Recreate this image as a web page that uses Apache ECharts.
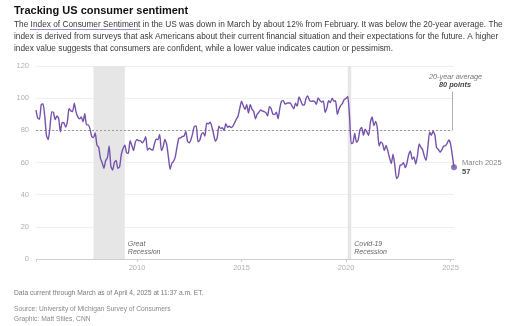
<!DOCTYPE html>
<html>
<head>
<meta charset="utf-8">
<style>
  html, body { margin: 0; padding: 0; background: #fff; }
  #chart { width: 520px; height: 326px; }
</style>
<script src="https://cdn.jsdelivr.net/npm/echarts@6/dist/echarts.min.js"></script>
</head>
<body>
<div id="chart"></div>
<script>
// Monthly University of Michigan Index of Consumer Sentiment, March 2005 – March 2025
const startYear = 2005;
const startMonth = 3; // March
const sentiment = [
  92.6, 87.7, 86.9, 96.0, 96.5, 89.1, 76.9, 74.2, 81.6, 91.5,                 // 2005 (Mar–Dec)
  91.2, 86.7, 88.9, 87.4, 79.1, 84.9, 84.7, 82.0, 85.4, 93.6, 92.1, 91.7,     // 2006
  96.9, 91.3, 88.4, 87.1, 88.3, 85.3, 90.4, 83.4, 83.4, 80.9, 76.1, 75.5,     // 2007
  78.4, 70.8, 69.5, 62.6, 59.8, 56.4, 61.2, 63.0, 70.3, 57.6, 55.3, 60.1,     // 2008
  61.2, 56.3, 57.3, 65.1, 68.7, 70.8, 66.0, 65.7, 73.5, 70.6, 67.4, 72.5,     // 2009
  74.4, 73.6, 73.6, 72.2, 73.6, 76.0, 67.8, 68.9, 68.2, 67.7, 71.6, 74.5,     // 2010
  74.2, 77.5, 67.5, 69.8, 74.3, 71.5, 63.7, 55.8, 59.5, 60.8, 63.7, 69.9,     // 2011
  75.0, 75.3, 76.2, 76.4, 79.3, 73.2, 72.3, 74.3, 78.3, 82.6, 82.7, 72.9,     // 2012
  73.8, 77.6, 78.6, 76.4, 84.5, 84.1, 85.1, 82.1, 77.5, 73.2, 75.1, 82.5,     // 2013
  81.2, 81.6, 80.0, 84.1, 81.9, 82.5, 81.8, 82.5, 84.6, 86.9, 88.8, 93.6,     // 2014
  98.1, 95.4, 93.0, 95.9, 90.7, 96.1, 93.1, 91.9, 87.2, 90.0, 91.3, 92.6,     // 2015
  92.0, 91.7, 91.0, 89.0, 94.7, 93.5, 90.0, 89.8, 91.2, 87.2, 93.8, 98.2,     // 2016
  98.5, 96.3, 96.9, 97.0, 97.1, 95.1, 93.4, 96.8, 95.1, 100.7, 98.5, 95.9,    // 2017
  95.7, 99.7, 101.4, 98.8, 98.0, 98.2, 97.9, 96.2, 100.1, 98.6, 97.5, 98.3,   // 2018
  91.2, 93.8, 98.4, 97.2, 100.0, 98.2, 98.4, 89.8, 93.2, 95.5, 96.8, 99.3,    // 2019
  99.8, 101.0, 89.1, 71.8, 72.3, 78.1, 72.5, 74.1, 80.4, 81.8, 76.9, 80.7,    // 2020
  79.0, 76.8, 84.9, 88.3, 82.9, 85.5, 81.2, 70.3, 72.8, 71.7, 67.4, 70.6,     // 2021
  67.2, 62.8, 59.4, 65.2, 58.4, 50.0, 51.5, 58.2, 58.6, 59.9, 56.8, 59.7,     // 2022
  64.9, 67.0, 62.0, 63.5, 59.0, 64.2, 71.5, 69.4, 67.9, 63.8, 61.3, 69.7,     // 2023
  79.0, 76.9, 79.4, 77.2, 69.1, 68.2, 66.4, 67.9, 70.1, 70.5, 71.8, 74.0,     // 2024
  71.7, 64.7, 57.0                                                            // 2025 (Jan–Mar)
];
const twentyYearAverage = 80;
const yTicks = [0, 20, 40, 60, 80, 100, 120];
const xLabelYears = [2010, 2015, 2020, 2025];
const recessions = [
  { name: 'Great\nRecession', from: [2007, 12], to: [2009, 6] },
  { name: 'Covid-19\nRecession', from: [2020, 2], to: [2020, 4] }
];
const lastLabel = 'March 2025';

// decimal-year position of a (year, month) pair
const yearPos = (y, m) => y + (m - 1) / 12;
const points = sentiment.map((v, i) => [yearPos(startYear, startMonth + i), v]);
const xMin = points[0][0];
const xMax = points[points.length - 1][0];
const last = points[points.length - 1];

const FONT = '"Liberation Sans", Arial, sans-serif';
const PURPLE = '#7652ad';

const chart = echarts.init(document.getElementById('chart'), null, { renderer: 'canvas' });

chart.setOption({
  animation: false,
  backgroundColor: '#ffffff',
  textStyle: { fontFamily: FONT },
  grid: { left: 36, right: 66, top: 66, bottom: 67, containLabel: false },
  xAxis: {
    type: 'value',
    min: xMin,
    max: xMax,
    axisLine: { show: true, lineStyle: { color: '#cfcfcf', width: 1 } },
    axisTick: { show: true, length: 3, lineStyle: { color: '#cfcfcf' }, customValues: [xMin].concat(xLabelYears) },
    axisLabel: { customValues: xLabelYears, color: '#b0b0b0', fontSize: 7.5, fontFamily: FONT, margin: 5,
                 formatter: v => String(Math.round(v)) },
    splitLine: { show: false }
  },
  yAxis: {
    type: 'value',
    min: yTicks[0],
    max: yTicks[yTicks.length - 1],
    interval: 20,
    axisLine: { show: false },
    axisTick: { show: false },
    axisLabel: { color: '#b0b0b0', fontSize: 7.5, fontFamily: FONT, margin: 7 },
    splitLine: { lineStyle: { color: '#efefef', width: 1 } }
  },
  series: [
    {
      type: 'line',
      data: points,
      showSymbol: false,
      smooth: 0.2,
      z: 5,
      lineStyle: { color: PURPLE, width: 1.4 },
      markArea: {
        silent: true,
        itemStyle: { color: '#e6e6e6' },
        label: {
          show: true,
          position: ['100%', '100%'],
          offset: [3, -3],
          align: 'left',
          verticalAlign: 'bottom',
          color: '#666',
          fontSize: 7,
          fontStyle: 'italic',
          lineHeight: 8,
          fontFamily: FONT
        },
        data: recessions.map(r => [
          { name: r.name, xAxis: yearPos(r.from[0], r.from[1]), yAxis: yTicks[yTicks.length - 1] },
          { xAxis: yearPos(r.to[0], r.to[1]), yAxis: 0 }
        ])
      },
      markLine: {
        silent: true,
        symbol: 'none',
        label: { show: false },
        data: [
          [
            { coord: [xMin, twentyYearAverage], lineStyle: { color: '#999', type: [2, 2], width: 1 } },
            { coord: [xMax - 0.1, twentyYearAverage] }
          ],
          [
            { coord: [xMax - 0.1, twentyYearAverage], lineStyle: { color: '#999', type: 'solid', width: 0.8 } },
            { coord: [xMax - 0.1, twentyYearAverage + 24] }
          ]
        ]
      }
    },
    {
      type: 'scatter',
      data: [last],
      symbolSize: 6,
      z: 6,
      itemStyle: { color: PURPLE },
      label: {
        show: true,
        position: 'right',
        distance: 5,
        formatter: p => '{a|' + lastLabel + '}\n{b|' + p.value[1] + '}',
        rich: {
          a: { color: '#666', fontSize: 7.5, fontFamily: FONT, lineHeight: 9 },
          b: { color: '#111', fontSize: 7.5, fontWeight: 'bold', fontFamily: FONT, lineHeight: 9 }
        }
      }
    }
  ],
  graphic: [
    { type: 'text', left: 14, top: 5, style: { text: 'Tracking US consumer sentiment', fill: '#111', font: 'bold 11px ' + FONT } },
    { type: 'text', left: 14, top: 19, style: {
        text: 'The Index of Consumer Sentiment in the US was down in March by about 12% from February. It was below the 20-year average. The\n' +
              'index is derived from surveys that ask Americans about their current financial situation and their expectations for the future. A higher\n' +
              'index value suggests that consumers are confident, while a lower value indicates caution or pessimism.',
        fill: '#3a3a3a', font: '8.3px ' + FONT, lineHeight: 12 } },
    { type: 'line', shape: { x1: 30, y1: 29.5, x2: 140, y2: 29.5 }, style: { stroke: '#8a6cc0', lineWidth: 0.8 } },
    { type: 'text', left: 429, top: 73, style: { text: '20-year average', fill: '#777', font: 'italic 7.3px ' + FONT } },
    { type: 'text', left: 439, top: 81, style: { text: twentyYearAverage + ' points', fill: '#444', font: 'italic bold 7.3px ' + FONT } },
    { type: 'text', left: 14, top: 290, style: { text: 'Data current through March as of April 4, 2025 at 11:37 a.m. ET.', fill: '#7a7a7a', font: '6.7px ' + FONT } },
    { type: 'text', left: 14, top: 306, style: { text: 'Source: University of Michigan Survey of Consumers', fill: '#8a8a8a', font: '6.7px ' + FONT } },
    { type: 'text', left: 14, top: 316, style: { text: 'Graphic: Matt Stiles, CNN', fill: '#8a8a8a', font: '6.7px ' + FONT } }
  ]
});
</script>
</body>
</html>
